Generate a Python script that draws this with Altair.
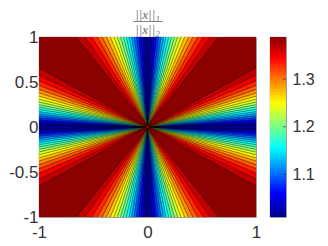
import altair as alt
import numpy as np
import pandas as pd

# contour levels (value of the ratio) and the slope |y/x| where each one reaches the frame
levels = [1.0202, 1.0394, 1.0586, 1.0778, 1.0970, 1.1162, 1.1354, 1.1546, 1.1738, 1.1930,
          1.2122, 1.2314, 1.2506, 1.2698, 1.2890, 1.3082, 1.3274, 1.3466, 1.3658, 1.3850]
slopes = [0.0203, 0.040, 0.0605, 0.081, 0.103, 0.125, 0.148, 0.171, 0.196, 0.222,
          0.249, 0.278, 0.309, 0.342, 0.378, 0.4178, 0.4625, 0.514, 0.5765, 0.657]
base_level = 1.01
clim = [1.01, 1.389]
x_ticks = [-1, 0, 1]
y_ticks = [-1, -0.5, 0, 0.5, 1]
cbar_ticks = [1.1, 1.2, 1.3]
cross_x = [-0.12, 0.12]
cross_y = [-0.12, 0.12]
jet_stops = [0, 0.125, 0.375, 0.625, 0.875, 1]
jet_colors = ["#00008f", "#0000ff", "#00ffff", "#ffff00", "#ff0000", "#800000"]
FONT = "Liberation Sans"
TXT = "#333333"

color_scale = alt.Scale(domain=[clim[0] + s * (clim[1] - clim[0]) for s in jet_stops],
                        range=jet_colors, interpolate="rgb")

rows = []
reach = 1.05
for k, (f, t) in enumerate(zip(levels, slopes)):
    for q, (sx, sy) in enumerate([(1, 1), (-1, 1), (-1, -1), (1, -1)]):
        key = f"{k:02d}-{q}"
        rows.append(dict(key=key, f=f, x=0, y=0, y2=0))
        rows.append(dict(key=key, f=f, x=sx * reach, y=sy * t * reach, y2=sy * reach / t))
wedges = pd.DataFrame(rows)

xs = alt.Scale(domain=[-1, 1], nice=False, zero=False)
ys = alt.Scale(domain=[-1, 1], nice=False, zero=False)
W, H = 217, 180

xaxis = alt.Axis(values=x_ticks, title=None, grid=False, ticks=False, domain=False, labelFont=FONT,
                 labelFontSize=17, labelColor=TXT, labelPadding=7, labelExpr="toString(datum.value)",
                 labelFlush=False)
yaxis = alt.Axis(values=y_ticks, title=None, grid=False, ticks=False, domain=False, labelFont=FONT,
                 labelFontSize=17, labelColor=TXT, labelPadding=1, labelExpr="toString(datum.value)",
                 labelFlush=False)

bg = alt.Chart(pd.DataFrame({"a": [-1], "a2": [1], "b": [-1], "b2": [1], "f": [base_level]})).mark_rect().encode(
    x=alt.X("a:Q", scale=xs, axis=xaxis), x2="a2:Q",
    y=alt.Y("b:Q", scale=ys, axis=yaxis), y2="b2:Q",
    color=alt.Color("f:Q", scale=color_scale, legend=None),
)
area = alt.Chart(wedges).mark_area(clip=True, stroke="black", strokeWidth=0.6, strokeOpacity=0.7).encode(
    x=alt.X("x:Q", scale=xs), y=alt.Y("y:Q", scale=ys, stack=None), y2="y2:Q",
    color=alt.Color("f:Q", scale=color_scale, legend=None),
    detail="key:N",
)
h_cross = alt.Chart(pd.DataFrame({"a": [cross_x[0]], "a2": [cross_x[1]], "b": [0]})).mark_rule(
    color="black", strokeWidth=1.2).encode(
    x=alt.X("a:Q", scale=xs), x2="a2:Q", y=alt.Y("b:Q", scale=ys))
v_cross = alt.Chart(pd.DataFrame({"a": [0], "b": [cross_y[0]], "b2": [cross_y[1]]})).mark_rule(
    color="black", strokeWidth=1.2).encode(
    x=alt.X("a:Q", scale=xs), y=alt.Y("b:Q", scale=ys), y2="b2:Q")
centre = alt.Chart(pd.DataFrame({"a": [0], "b": [0]})).mark_point(
    shape="diamond", filled=True, size=14, color="#800000", opacity=1).encode(
    x=alt.X("a:Q", scale=xs), y=alt.Y("b:Q", scale=ys))

cx = W / 2
title_top = alt.Chart(pd.DataFrame({"t": ["||x||\u2081"]})).mark_text(
    font="Liberation Serif", fontStyle="italic", fontSize=13, color="#666666", baseline="alphabetic"
).encode(x=alt.value(cx), y=alt.value(-18.5), text="t:N")
title_bot = alt.Chart(pd.DataFrame({"t": ["||x||\u2082"]})).mark_text(
    font="Liberation Serif", fontStyle="italic", fontSize=13, color="#666666", baseline="alphabetic"
).encode(x=alt.value(cx), y=alt.value(-3.5), text="t:N")
bar = alt.Chart(pd.DataFrame({"v": [0]})).mark_rule(color="#666666", strokeWidth=0.8).encode(
    x=alt.value(cx - 14), x2=alt.value(cx + 15), y=alt.value(-15.5))

main = alt.layer(bg, area, h_cross, v_cross, centre, title_top, title_bot, bar).properties(width=W, height=H)

edges = np.linspace(clim[0], clim[1], 65)
step = edges[1] - edges[0]
# each colour band overlaps the next slightly so that no seam shows between them
cb = pd.DataFrame({"lo": edges[:-1],
                   "hi": np.minimum(edges[1:] + step * 0.5, clim[1]),
                   "mid": (edges[:-1] + edges[1:]) / 2})
cbar_rect = alt.Chart(cb).mark_rect().encode(
    y=alt.Y("lo:Q", scale=alt.Scale(domain=clim, nice=False, zero=False),
            axis=alt.Axis(orient="right", values=cbar_ticks, title=None, grid=False, ticks=False, domain=False,
                          labelFont=FONT, labelFontSize=16, labelColor=TXT, labelPadding=6, format=".1f")),
    y2="hi:Q",
    x=alt.value(0), x2=alt.value(16),
    color=alt.Color("mid:Q", scale=color_scale, legend=None),
    order=alt.Order("lo:Q", sort="descending"),
)
cbar_tick = alt.Chart(pd.DataFrame({"v": cbar_ticks})).mark_rule(color="#333333", strokeWidth=0.7).encode(
    y=alt.Y("v:Q"), x=alt.value(13), x2=alt.value(16))
cbar = alt.layer(cbar_rect, cbar_tick).properties(width=16, height=H)

chart = (alt.hconcat(main, cbar, spacing=7)
         .resolve_scale(color="shared")
         .configure_view(stroke="#666666", strokeWidth=0.8)
         .properties(padding={"left": 0, "top": 0, "right": 0, "bottom": 0}, background="white"))
chart.save("out.html", embed_options={"renderer": "svg", "actions": False})
